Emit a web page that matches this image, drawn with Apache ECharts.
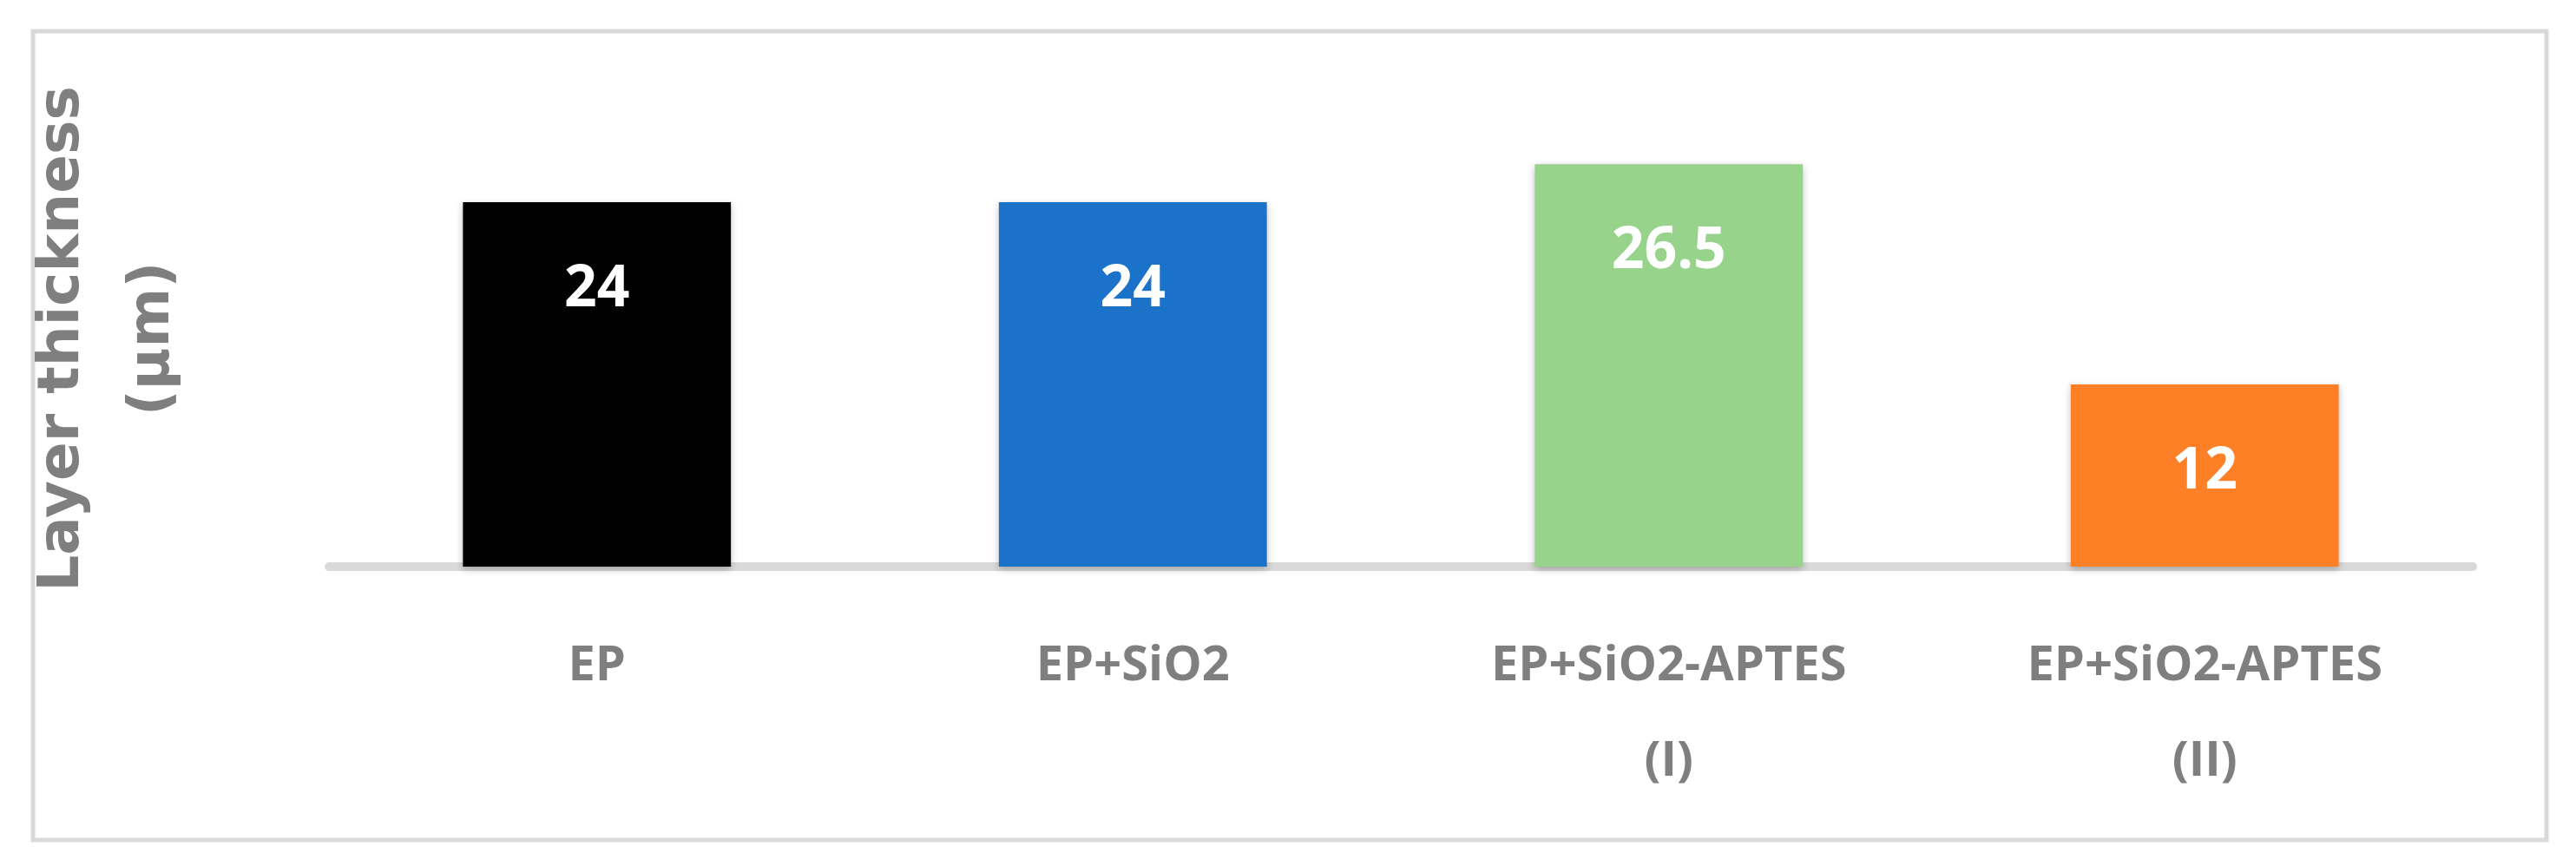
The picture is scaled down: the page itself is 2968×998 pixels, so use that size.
<!DOCTYPE html>
<html><head><meta charset="utf-8">
<script src="https://cdn.jsdelivr.net/npm/echarts@6/dist/echarts.min.js"></script>
<style>html,body{margin:0;background:#fff}#c{width:2968px;height:998px}</style>
</head><body><div id="c"></div>
<script>
const categories = ['EP', 'EP+SiO2', 'EP+SiO2-APTES\n(I)', 'EP+SiO2-APTES\n(II)'];
const values = [24, 24, 26.5, 12];
const colors = ['#000000', '#1a73c8', '#97d38b', '#fd7f26'];
const yTitle = 'Layer thickness\n(µm)';

const chart = echarts.init(document.getElementById('c'));
chart.setOption({
  animation: false,
  graphic: [{type: 'rect', shape: {x: 38, y: 36, width: 2896, height: 932},
    style: {fill: 'none', stroke: '#d9d9d9', lineWidth: 5}}],
  grid: {left: 379, right: 119, top: 128, bottom: 345},
  xAxis: {type: 'category', data: categories,
    axisLine: {lineStyle: {color: '#d9d9d9', width: 10}},
    axisTick: {show: false},
    axisLabel: {color: '#7f7f7f', fontFamily: 'Open Sans', fontWeight: 'bold', fontSize: 56, lineHeight: 110, margin: 60}},
  yAxis: {type: 'value', min: 0, max: 30, show: true,
    axisLine: {show: false}, axisTick: {show: false}, axisLabel: {show: false}, splitLine: {show: false},
    name: yTitle, nameLocation: 'middle', nameRotate: 90, nameGap: 150,
    nameTextStyle: {color: '#7f7f7f', fontFamily: 'DejaVu Sans', fontWeight: 'bold', fontSize: 66, lineHeight: 104}},
  series: [{type: 'bar', barWidth: '50%',
    data: values.map((v, i) => ({value: v, itemStyle: {color: colors[i]}})),
    itemStyle: {shadowBlur: 8, shadowColor: 'rgba(0,0,0,0.25)', shadowOffsetY: 3},
    label: {show: true, position: 'insideTop', distance: 68, color: '#fff',
      fontFamily: 'Open Sans', fontWeight: 'bold', fontSize: 66}}]
});
</script></body></html>
